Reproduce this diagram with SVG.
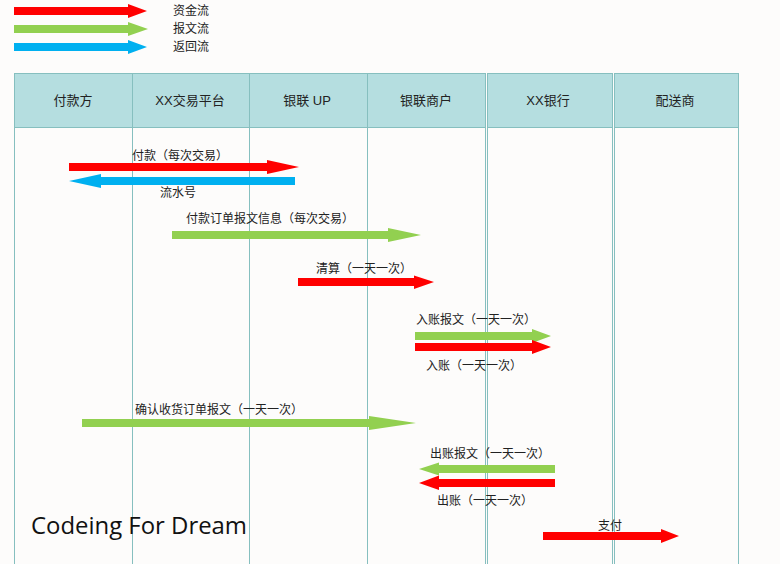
<svg xmlns="http://www.w3.org/2000/svg" width="780" height="564" viewBox="0 0 780 564">
<style>
.bg{fill:#fdfcfb}
.hd{fill:#b5dee0;stroke:#86bfbf;stroke-width:1}
.ln{stroke:#86bfbf;stroke-width:1;fill:none}
.t{font-family:"Liberation Sans","Noto Sans CJK SC",sans-serif;font-size:12px;fill:#222}
.h{font-family:"Liberation Sans","Noto Sans CJK SC",sans-serif;font-size:13px;fill:#222;text-anchor:middle}
.r{fill:#ff0000}
.g{fill:#92d050}
.b{fill:#00b0f0}
.logo{font-family:"Open Sans","Noto Sans",sans-serif;font-size:24px;fill:#111}
</style>
<rect class="bg" x="0" y="0" width="780" height="564"/>
<g id="legend">
<polygon class="r" points="14,7 128,7 128,4 147,11 128,18 128,15 14,15"/>
<polygon class="g" points="14,25 128,25 128,22 148,29 128,36 128,33 14,33"/>
<polygon class="b" points="14,43 128,43 128,40 147,47 128,54 128,51 14,51"/>
<text class="t" x="173" y="15">资金流</text>
<text class="t" x="173" y="33">报文流</text>
<text class="t" x="173" y="51">返回流</text>
</g>
<g id="lanes">
<g id="n1"><rect class="hd" x="14.5" y="73.5" width="118" height="54"/><line class="ln" x1="14.5" y1="127" x2="14.5" y2="564"/><text class="h" x="73" y="105">付款方</text></g>
<g id="n2"><rect class="hd" x="132.5" y="73.5" width="117" height="54"/><line class="ln" x1="132.5" y1="127" x2="132.5" y2="564"/><text class="h" x="190" y="105">XX交易平台</text></g>
<g id="n3"><rect class="hd" x="249.5" y="73.5" width="118" height="54"/><line class="ln" x1="249.5" y1="127" x2="249.5" y2="564"/><text class="h" x="307" y="105">银联 UP</text></g>
<g id="n4"><rect class="hd" x="367.5" y="73.5" width="118" height="54"/><line class="ln" x1="367.5" y1="127" x2="367.5" y2="564"/><line class="ln" x1="485.5" y1="127" x2="485.5" y2="564"/><text class="h" x="426" y="105">银联商户</text></g>
<g id="n5"><rect class="hd" x="487.5" y="73.5" width="125" height="54"/><line class="ln" x1="487.5" y1="127" x2="487.5" y2="564"/><line class="ln" x1="612.5" y1="127" x2="612.5" y2="564"/><text class="h" x="548" y="105">XX银行</text></g>
<g id="n6"><rect class="hd" x="614.5" y="73.5" width="124" height="54"/><line class="ln" x1="614.5" y1="127" x2="614.5" y2="564"/><line class="ln" x1="738.5" y1="127" x2="738.5" y2="564"/><text class="h" x="675" y="105">配送商</text></g>
</g>
<g id="connectors">
<polygon class="r" points="69,163 267,163 267,160 299,167 267,174 267,171 69,171"/>
<text class="t" x="132" y="160">付款（每次交易）</text>
<polygon class="b" points="69,181 101,174 101,177 295,177 295,185 101,185 101,188"/>
<text class="t" x="160" y="197">流水号</text>
<polygon class="g" points="172,231 388,231 388,228 421,235 388,242 388,239 172,239"/>
<text class="t" x="186" y="223">付款订单报文信息（每次交易）</text>
<polygon class="r" points="298,278 414,278 414,275.5 434,282 414,289 414,286 298,286"/>
<text class="t" x="316" y="273">清算（一天一次）</text>
<polygon class="g" points="415,332 532,332 532,329 551,336 532,343 532,340 415,340"/>
<text class="t" x="416" y="324">入账报文（一天一次）</text>
<polygon class="r" points="415,343 532,343 532,340 551,347 532,354 532,351 415,351"/>
<text class="t" x="426" y="370">入账（一天一次）</text>
<polygon class="g" points="82,419 369,419 369,416 416,423 369,430 369,427 82,427"/>
<text class="t" x="135" y="414">确认收货订单报文（一天一次）</text>
<polygon class="g" points="419,469 439,462.5 439,465 555,465 555,473 439,473 439,475.5"/>
<text class="t" x="430" y="458">出账报文（一天一次）</text>
<polygon class="r" points="419,483 439,475.5 439,479 555,479 555,487 439,487 439,490"/>
<text class="t" x="437" y="505">出账（一天一次）</text>
<polygon class="r" points="543,532 661,532 661,529 679,536 661,543 661,540 543,540"/>
<text class="t" x="598" y="530">支付</text>
</g>
<text class="logo" x="31" y="534" textLength="216" lengthAdjust="spacingAndGlyphs">Codeing For Dream</text>
</svg>
